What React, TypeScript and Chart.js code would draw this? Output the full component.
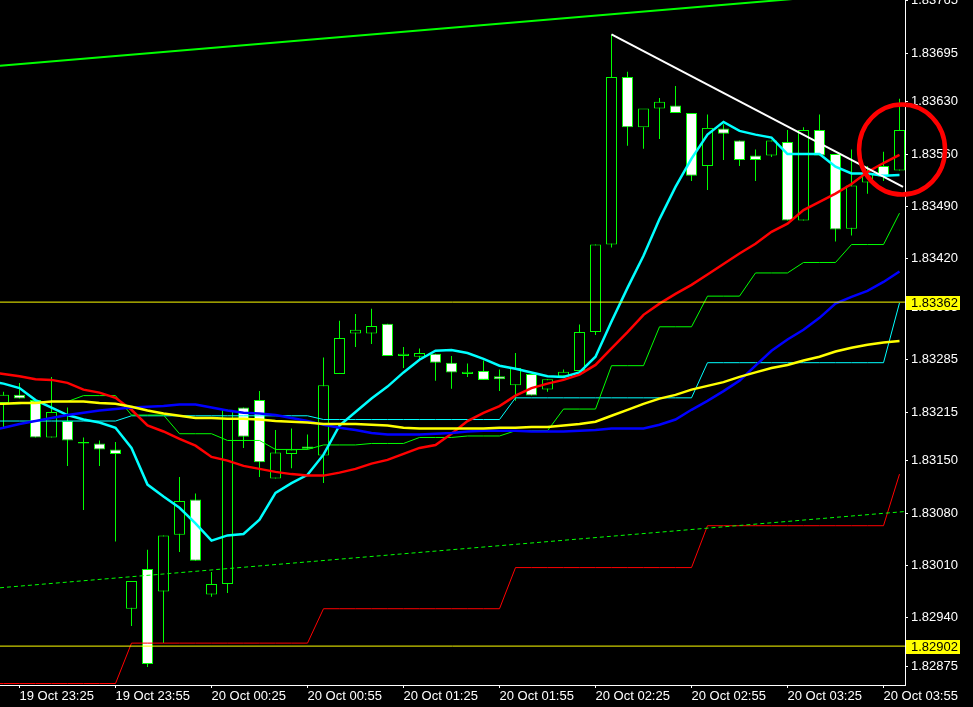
import React, { useEffect, useRef } from 'react';
import { Chart, registerables } from 'chart.js';

Chart.register(...registerables);

// ---- DATA ----
// candle index 0 = 19 Oct 23:20 (M5), last index 56 = 20 Oct 04:00
const candleOpen = [
  1.83227, 1.83238, 1.83231, 1.83181, 1.83203, 1.83173, 1.83173, 1.83165, 1.82952, 1.83005,
  1.82975, 1.83051, 1.83098, 1.82971, 1.82985, 1.83221, 1.83231, 1.83126, 1.83159, 1.83169,
  1.83157, 1.83266, 1.83320, 1.83320, 1.83333, 1.83290, 1.83289, 1.83293, 1.83281, 1.83266,
  1.83270, 1.83263, 1.83251, 1.83266, 1.83245, 1.83263, 1.83270, 1.83322, 1.83439, 1.83663,
  1.83596, 1.83621, 1.83625, 1.83615, 1.83544, 1.83594, 1.83578, 1.83558, 1.83558, 1.83576,
  1.83471, 1.83592, 1.83560, 1.83460, 1.83522, 1.83544, 1.83538,
];
const candleHigh = [
  1.83242, 1.83254, 1.83231, 1.83262, 1.83221, 1.83181, 1.83177, 1.83175, 1.82989, 1.83031,
  1.83050, 1.83128, 1.83106, 1.83001, 1.83218, 1.83221, 1.83243, 1.83191, 1.83193, 1.83185,
  1.83288, 1.83337, 1.83346, 1.83353, 1.83333, 1.83302, 1.83300, 1.83293, 1.83290, 1.83280,
  1.83284, 1.83272, 1.83294, 1.83266, 1.83259, 1.83272, 1.83332, 1.83439, 1.83720, 1.83670,
  1.83596, 1.83635, 1.83651, 1.83615, 1.83613, 1.83600, 1.83578, 1.83566, 1.83578, 1.83592,
  1.83596, 1.83613, 1.83560, 1.83566, 1.83544, 1.83563, 1.83634,
];
const candleLow = [
  1.83195, 1.83233, 1.83181, 1.83181, 1.83143, 1.83084, 1.83143, 1.83042, 1.82929, 1.82874,
  1.82906, 1.83028, 1.83016, 1.82968, 1.82973, 1.83167, 1.83128, 1.83126, 1.83140, 1.83165,
  1.83120, 1.83266, 1.83302, 1.83306, 1.83290, 1.83274, 1.83286, 1.83257, 1.83246, 1.83262,
  1.83258, 1.83243, 1.83230, 1.83237, 1.83242, 1.83263, 1.83270, 1.83318, 1.83435, 1.83571,
  1.83567, 1.83580, 1.83615, 1.83524, 1.83512, 1.83552, 1.83544, 1.83524, 1.83556, 1.83471,
  1.83471, 1.83558, 1.83443, 1.83451, 1.83507, 1.83524, 1.83538,
];
const candleClose = [
  1.83238, 1.83233, 1.83181, 1.83215, 1.83177, 1.83175, 1.83165, 1.83159, 1.82989, 1.82878,
  1.83050, 1.83096, 1.83016, 1.82985, 1.83218, 1.83182, 1.83148, 1.83161, 1.83165, 1.83166,
  1.83251, 1.83314, 1.83325, 1.83330, 1.83290, 1.83293, 1.83294, 1.83281, 1.83268, 1.83269,
  1.83258, 1.83259, 1.83274, 1.83237, 1.83259, 1.83269, 1.83322, 1.83439, 1.83663, 1.83596,
  1.83621, 1.83630, 1.83615, 1.83531, 1.83595, 1.83587, 1.83552, 1.83552, 1.83578, 1.83471,
  1.83592, 1.83558, 1.83459, 1.83518, 1.83535, 1.83530, 1.83592,
];

// indicator series start one bar earlier (index -1) so they reach the left edge
const INDICATOR_START = -1;
const maCyan = [
  1.83257, 1.83253, 1.83247, 1.83231, 1.83221, 1.83211, 1.83205, 1.83201, 1.83194, 1.83167,
  1.83118, 1.83102, 1.83087, 1.83066, 1.83043, 1.83050, 1.83052, 1.83071, 1.83107, 1.83120,
  1.83131, 1.83158, 1.83197, 1.83215, 1.83233, 1.83249, 1.83268, 1.83285, 1.83297, 1.83298,
  1.83294, 1.83286, 1.83277, 1.83273, 1.83268, 1.83263, 1.83262, 1.83268, 1.83289, 1.83336,
  1.83381, 1.83424, 1.83473, 1.83516, 1.83554, 1.83586, 1.83603, 1.83591, 1.83586, 1.83582,
  1.83560, 1.83560, 1.83560, 1.83543, 1.83534, 1.83534, 1.83531, 1.83532,
];
const maRed = [
  1.83269, 1.83266, 1.83263, 1.83259, 1.83258, 1.83254, 1.83245, 1.83241, 1.83234, 1.83218,
  1.83197, 1.83189, 1.83179, 1.83170, 1.83155, 1.83150, 1.83143, 1.83139, 1.83135, 1.83132,
  1.83130, 1.83130, 1.83134, 1.83139, 1.83146, 1.83151, 1.83159, 1.83167, 1.83171, 1.83186,
  1.83203, 1.83214, 1.83223, 1.83237, 1.83247, 1.83253, 1.83258, 1.83265, 1.83278, 1.83300,
  1.83322, 1.83345, 1.83360, 1.83373, 1.83385, 1.83399, 1.83413, 1.83427, 1.83440, 1.83456,
  1.83467, 1.83485, 1.83496, 1.83507, 1.83520, 1.83536, 1.83548, 1.83559,
];
const maBlue = [
  1.83190, 1.83194, 1.83199, 1.83203, 1.83207, 1.83211, 1.83214, 1.83217, 1.83219, 1.83221,
  1.83222, 1.83223, 1.83225, 1.83225, 1.83221, 1.83217, 1.83214, 1.83213, 1.83211, 1.83207,
  1.83203, 1.83198, 1.83194, 1.83191, 1.83187, 1.83185, 1.83185, 1.83185, 1.83186, 1.83187,
  1.83189, 1.83190, 1.83190, 1.83190, 1.83189, 1.83189, 1.83189, 1.83190, 1.83191, 1.83193,
  1.83193, 1.83193, 1.83198, 1.83205, 1.83218, 1.83230, 1.83243, 1.83257, 1.83277, 1.83297,
  1.83312, 1.83325, 1.83341, 1.83360, 1.83369, 1.83377, 1.83389, 1.83403,
];
const maYellow = [
  1.83226, 1.83226, 1.83227, 1.83227, 1.83229, 1.83229, 1.83229, 1.83227, 1.83226, 1.83222,
  1.83217, 1.83213, 1.83210, 1.83207, 1.83207, 1.83206, 1.83206, 1.83205, 1.83203, 1.83202,
  1.83201, 1.83199, 1.83199, 1.83199, 1.83198, 1.83197, 1.83194, 1.83193, 1.83193, 1.83193,
  1.83193, 1.83193, 1.83194, 1.83194, 1.83195, 1.83195, 1.83197, 1.83199, 1.83202, 1.83210,
  1.83218, 1.83226, 1.83233, 1.83238, 1.83245, 1.83250, 1.83255, 1.83262, 1.83268, 1.83274,
  1.83278, 1.83284, 1.83289, 1.83296, 1.83301, 1.83305, 1.83308, 1.83310,
];
const stepGreen = [
  1.83226, 1.83226, 1.83226, 1.83229, 1.83229, 1.83229, 1.83237, 1.83237, 1.83237, 1.83211,
  1.83211, 1.83211, 1.83186, 1.83186, 1.83186, 1.83177, 1.83177, 1.83177, 1.83165, 1.83165,
  1.83165, 1.83171, 1.83171, 1.83171, 1.83173, 1.83173, 1.83173, 1.83181, 1.83181, 1.83181,
  1.83183, 1.83183, 1.83183, 1.83190, 1.83190, 1.83190, 1.83219, 1.83219, 1.83219, 1.83277,
  1.83277, 1.83277, 1.83329, 1.83329, 1.83329, 1.83370, 1.83370, 1.83370, 1.83401, 1.83401,
  1.83401, 1.83415, 1.83415, 1.83415, 1.83439, 1.83439, 1.83439, 1.83481,
];
const stepCyan = [
  1.83203, 1.83203, 1.83203, 1.83203, 1.83203, 1.83203, 1.83203, 1.83203, 1.83203, 1.83210,
  1.83210, 1.83210, 1.83210, 1.83210, 1.83210, 1.83210, 1.83210, 1.83210, 1.83210, 1.83210,
  1.83210, 1.83205, 1.83205, 1.83205, 1.83205, 1.83205, 1.83205, 1.83205, 1.83205, 1.83205,
  1.83205, 1.83205, 1.83205, 1.83234, 1.83234, 1.83234, 1.83234, 1.83234, 1.83234, 1.83234,
  1.83234, 1.83234, 1.83234, 1.83234, 1.83234, 1.83281, 1.83281, 1.83281, 1.83281, 1.83281,
  1.83281, 1.83281, 1.83281, 1.83281, 1.83281, 1.83281, 1.83281, 1.83361,
];
const stepRed = [
  1.82852, 1.82852, 1.82852, 1.82852, 1.82852, 1.82852, 1.82852, 1.82852, 1.82852, 1.82906,
  1.82906, 1.82906, 1.82906, 1.82906, 1.82906, 1.82906, 1.82906, 1.82906, 1.82906, 1.82906,
  1.82906, 1.82952, 1.82952, 1.82952, 1.82952, 1.82952, 1.82952, 1.82952, 1.82952, 1.82952,
  1.82952, 1.82952, 1.82952, 1.83007, 1.83007, 1.83007, 1.83007, 1.83007, 1.83007, 1.83007,
  1.83007, 1.83007, 1.83007, 1.83007, 1.83007, 1.83063, 1.83063, 1.83063, 1.83063, 1.83063,
  1.83063, 1.83063, 1.83063, 1.83063, 1.83063, 1.83063, 1.83063, 1.83132,
];

// trend objects: [barIndex, price] endpoints
const channelUpper = [[-0.22, 1.83678], [56.35, 1.83780]];
const channelLower = [[-0.22, 1.82980], [56.35, 1.83082]];
const whiteTrend = [[38, 1.83720], [56.22, 1.83516]];
const hLevels = [1.83362, 1.82902];
const hLevelLabels = ['1.83362', '1.82902'];
const circleMark = [56.16, 1.83566];

const xTickIndex = [1, 7, 13, 19, 25, 31, 37, 43, 49, 55];
const xTickLabels = [
  '19 Oct 23:25', '19 Oct 23:55', '20 Oct 00:25', '20 Oct 00:55', '20 Oct 01:25',
  '20 Oct 01:55', '20 Oct 02:25', '20 Oct 02:55', '20 Oct 03:25', '20 Oct 03:55',
];
const yTickLabels = [
  '1.83765', '1.83695', '1.83630', '1.83560', '1.83490', '1.83420', '1.83355',
  '1.83285', '1.83215', '1.83150', '1.83080', '1.83010', '1.82940', '1.82875',
];

const X_MIN = -0.21875;
const X_MAX = 56.34375;
const Y_MIN = 1.8285;
const Y_MAX = 1.83766;

const FONT = { family: '"Liberation Sans", Arial, sans-serif', size: 13 };

const overlayPlugin = {
  id: 'mtOverlay',
  afterDraw(chart: any) {
    const { ctx, scales } = chart;
    const x = scales.x;
    const y = scales.y;
    ctx.save();
    ctx.font = '13px "Liberation Sans", Arial, sans-serif';
    ctx.textBaseline = 'middle';
    ctx.textAlign = 'left';
    hLevels.forEach((lv, i) => {
      const py = Math.round(y.getPixelForValue(lv));
      ctx.fillStyle = '#ffff00';
      ctx.fillRect(x.right + 1, py - 6, 54, 14);
      ctx.fillStyle = '#000000';
      ctx.fillText(hLevelLabels[i], x.right + 6, py + 1);
    });
    const cx = x.getPixelForValue(circleMark[0]);
    const cy = y.getPixelForValue(circleMark[1]);
    ctx.beginPath();
    ctx.ellipse(cx, cy, 43, 45, 0, 0, Math.PI * 2);
    ctx.strokeStyle = '#ff0000';
    ctx.lineWidth = 4.5;
    ctx.stroke();
    ctx.restore();
  },
};

function lineSeries(values: number[], start: number) {
  return values.map((v, i) => ({ x: start + i, y: v }));
}

export default function App() {
  const ref = useRef<HTMLCanvasElement | null>(null);

  useEffect(() => {
    const canvas = ref.current;
    if (!canvas) return;
    const idx = candleOpen.map((_, i) => i);
    const bodyColors = candleClose.map((c, i) => (c < candleOpen[i] ? '#ffffff' : '#000000'));

    const thin = (data: any[], color: string, order: number, extra: any = {}) => ({
      type: 'line',
      data,
      borderColor: color,
      borderWidth: 1,
      pointRadius: 0,
      fill: false,
      tension: 0,
      order,
      ...extra,
    });

    const chart = new Chart(canvas, {
      type: 'bar',
      data: {
        datasets: [
          {
            type: 'line',
            data: whiteTrend.map(([a, b]) => ({ x: a, y: b })),
            borderColor: '#ffffff',
            borderWidth: 2,
            pointRadius: 0,
            order: 0,
          } as any,
          {
            type: 'line',
            data: channelUpper.map(([a, b]) => ({ x: a, y: b })),
            borderColor: '#00ff00',
            borderWidth: 2,
            pointRadius: 0,
            order: 1,
          } as any,
          thin(channelLower.map(([a, b]) => ({ x: a, y: b })), '#00ff00', 1, { borderDash: [4, 3] }),
          ...hLevels.map((lv) => thin([{ x: X_MIN - 1, y: lv }, { x: X_MAX + 1, y: lv }], '#ffff00', 2)),
          {
            type: 'line', data: lineSeries(maYellow, INDICATOR_START), borderColor: '#ffff00',
            borderWidth: 2.5, pointRadius: 0, tension: 0, order: 3,
          } as any,
          {
            type: 'line', data: lineSeries(maBlue, INDICATOR_START), borderColor: '#0000ff',
            borderWidth: 2.5, pointRadius: 0, tension: 0, order: 3,
          } as any,
          {
            type: 'line', data: lineSeries(maRed, INDICATOR_START), borderColor: '#ff0000',
            borderWidth: 2.5, pointRadius: 0, tension: 0, order: 3,
          } as any,
          {
            type: 'line', data: lineSeries(maCyan, INDICATOR_START), borderColor: '#00ffff',
            borderWidth: 2.5, pointRadius: 0, tension: 0, order: 3,
          } as any,
          thin(lineSeries(stepGreen, INDICATOR_START), '#00ff00', 4),
          thin(lineSeries(stepCyan, INDICATOR_START), '#00ffff', 4),
          thin(lineSeries(stepRed, INDICATOR_START), '#ff0000', 4),
          {
            type: 'bar',
            data: idx.map((i) => ({ x: i, y: [candleOpen[i], candleClose[i]] })),
            backgroundColor: bodyColors,
            borderColor: '#00ff00',
            borderWidth: 1,
            borderSkipped: false,
            barThickness: 11,
            grouped: false,
            inflateAmount: 0,
            order: 10,
          } as any,
          {
            type: 'bar',
            data: idx.map((i) => ({ x: i, y: [candleLow[i], candleHigh[i]] })),
            backgroundColor: '#00ff00',
            borderWidth: 0,
            barThickness: 1,
            grouped: false,
            inflateAmount: 0,
            order: 11,
          } as any,
        ],
      },
      options: {
        responsive: false,
        animation: false,
        devicePixelRatio: 1,
        layout: { padding: 0 },
        plugins: {
          legend: { display: false },
          tooltip: { enabled: false },
        },
        scales: {
          x: {
            type: 'linear',
            position: 'bottom',
            min: X_MIN,
            max: X_MAX,
            offset: false,
            grid: { display: true, drawOnChartArea: false, drawTicks: true, tickLength: 3, color: '#ffffff', offset: false },
            border: { display: true, color: '#ffffff', width: 1 },
            ticks: {
              color: '#ffffff',
              font: FONT,
              align: 'start',
              maxRotation: 0,
              minRotation: 0,
              autoSkip: false,
              padding: 1,
              callback: (_v: any, i: number) => xTickLabels[i],
            },
            afterBuildTicks: (s: any) => {
              s.ticks = xTickIndex.map((v) => ({ value: v }));
            },
            afterFit: (s: any) => {
              s.height = 22;
              s.paddingLeft = 0;
              s.paddingRight = 0;
              s.paddingTop = 0;
              s.paddingBottom = 0;
            },
          },
          y: {
            type: 'linear',
            position: 'right',
            min: Y_MIN,
            max: Y_MAX,
            grid: { display: true, drawOnChartArea: false, drawTicks: true, tickLength: 3, color: '#ffffff' },
            border: { display: true, color: '#ffffff', width: 1 },
            ticks: {
              color: '#ffffff',
              font: FONT,
              padding: 3,
              autoSkip: false,
              callback: (_v: any, i: number) => yTickLabels[i],
            },
            afterBuildTicks: (s: any) => {
              s.ticks = yTickLabels.map((t) => ({ value: parseFloat(t) }));
            },
            afterFit: (s: any) => {
              s.width = 68;
              s.paddingTop = 0;
              s.paddingBottom = 0;
              s.paddingLeft = 0;
              s.paddingRight = 0;
            },
          },
        },
      } as any,
      plugins: [overlayPlugin],
    } as any);

    return () => chart.destroy();
  }, []);

  return (
    <div style={{ position: 'fixed', left: 0, top: 0, width: 973, height: 707, background: '#000000' }}>
      <canvas ref={ref} width={973} height={707} style={{ display: 'block', width: 973, height: 707 }} />
    </div>
  );
}
